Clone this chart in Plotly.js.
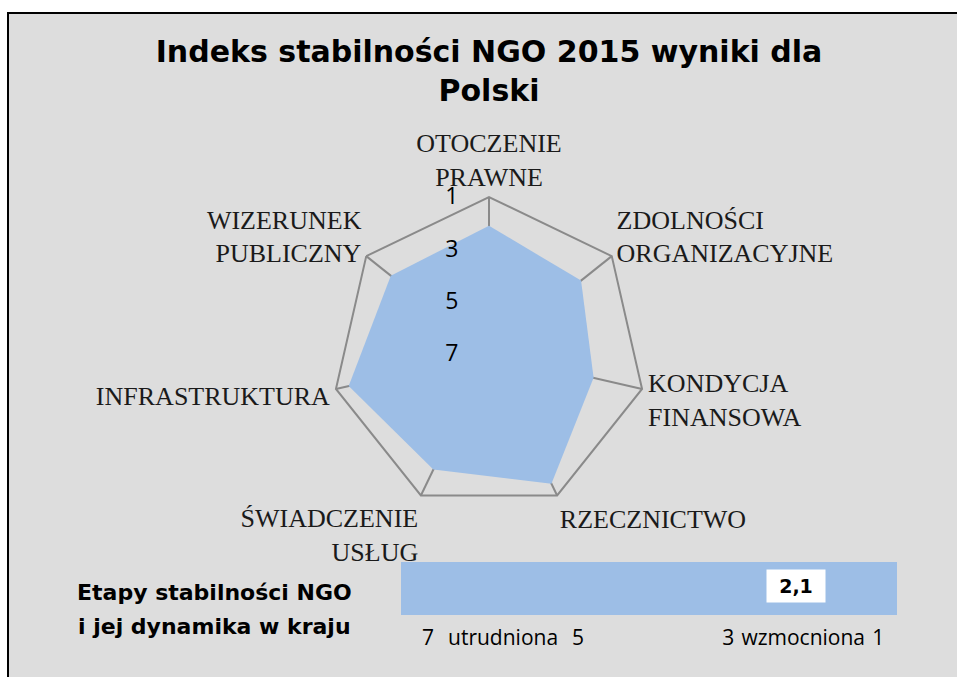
<!DOCTYPE html>
<html>
<head>
<meta charset="utf-8">
<script src="https://cdn.plot.ly/plotly-3.0.1.min.js"></script>
<style>
  html, body { margin: 0; padding: 0; background: #ffffff; width: 957px; height: 677px; overflow: hidden; }
  #frame { position: absolute; left: 7px; top: 12px; width: 960px; height: 680px; border-left: 2px solid #000; border-top: 2px solid #000; background: #dddddd; }
  #chart { position: absolute; left: 0; top: 0; width: 948px; height: 663px; }
</style>
</head>
<body>
<div id="frame"><div id="chart"></div></div>
<script>
// ---- data ----
const titleLines = ['Indeks stabilności NGO 2015 wyniki dla', 'Polski'];
const categories = ['OTOCZENIE<br>PRAWNE', 'ZDOLNOŚCI<br>ORGANIZACYJNE', 'KONDYCJA<br>FINANSOWA', 'RZECZNICTWO', 'ŚWIADCZENIE<br>USŁUG', 'INFRASTRUKTURA', 'WIZERUNEK<br>PUBLICZNY'];
const scores = [2.1, 2.5, 2.9, 1.5, 2.1, 1.5, 2.2];
const radialTickVals = [1, 3, 5, 7];
const overallScore = 2.1;
const overallLabel = '2,1';
const stageTickVals = [7, 6, 5, 3, 2, 1];
const stageTickText = ['7', 'utrudniona', '5', '3', 'wzmocniona', '1'];
const stageCaption = ['Etapy stabilności NGO', 'i jej dynamika w kraju'];

// ---- layout helpers (page px -> plot fractions) ----
const W = 948, H = 663, OX = 9, OY = 14;
const fx = px => (px - OX) / W;
const fy = py => 1 - (py - OY) / H;

const boldFont = '"DejaVu Sans", sans-serif';
const sansFont = '"Open Sans", sans-serif';
const serifFont = '"Liberation Serif", "DejaVu Serif", serif';

const traces = [
  {
    type: 'scatterpolar',
    r: scores.concat([scores[0]]),
    theta: categories.concat([categories[0]]),
    fill: 'toself',
    fillcolor: '#9dbee6',
    mode: 'none',
    hoverinfo: 'r+theta',
    showlegend: false
  },
  {
    type: 'scatter',
    x: [overallScore],
    y: [0.5],
    xaxis: 'x',
    yaxis: 'y',
    mode: 'markers',
    marker: { opacity: 0 },
    hoverinfo: 'x',
    showlegend: false
  }
];

const layout = {
  width: W,
  height: H,
  margin: { l: 0, r: 0, t: 0, b: 0 },
  paper_bgcolor: '#dddddd',
  plot_bgcolor: '#9dbee6',
  showlegend: false,
  title: {
    text: '<b>' + titleLines.join('<br>') + '</b>',
    font: { family: boldFont, size: 30, color: '#000000' },
    x: fx(489),
    xanchor: 'center',
    y: fy(62),
    yanchor: 'top',
    yref: 'container'
  },
  polar: {
    domain: { x: [fx(332), fx(646)], y: [fy(511), fy(197)] },
    bgcolor: 'rgba(0,0,0,0)',
    gridshape: 'linear',
    radialaxis: {
      range: [7, 1],
      tickvals: radialTickVals,
      showgrid: false,
      showline: false,
      angle: 90,
      tickangle: 90,
      side: 'counterclockwise',
      ticks: 'outside',
      ticklen: 22,
      tickcolor: 'rgba(0,0,0,0)',
      tickfont: { family: sansFont, size: 23, color: '#000000' }
    },
    angularaxis: {
      direction: 'clockwise',
      rotation: 90,
      showline: true,
      linecolor: '#8a8a8a',
      linewidth: 2,
      showgrid: true,
      gridcolor: '#8a8a8a',
      gridwidth: 2,
      ticks: '',
      tickfont: { family: serifFont, size: 26, color: '#1a1a1a' }
    }
  },
  xaxis: {
    domain: [fx(401), fx(897)],
    range: [7.36, 0.75],
    tickvals: stageTickVals,
    ticktext: stageTickText,
    ticks: 'outside',
    ticklen: 4,
    tickcolor: 'rgba(0,0,0,0)',
    showgrid: false,
    zeroline: false,
    showline: false,
    tickfont: { family: sansFont, size: 21, color: '#000000' },
    fixedrange: true
  },
  yaxis: {
    domain: [fy(615), fy(562)],
    range: [0, 1],
    visible: false,
    fixedrange: true
  },
  annotations: [
    {
      xref: 'x', yref: 'y',
      x: overallScore, y: 0.55,
      text: '<b>' + overallLabel + '</b>',
      showarrow: false,
      bgcolor: '#ffffff',
      width: 56, height: 30,
      font: { family: boldFont, size: 19, color: '#000000' }
    },
    {
      xref: 'paper', yref: 'paper',
      x: fx(214), y: fy(592),
      xanchor: 'center', yanchor: 'middle',
      text: '<b>' + stageCaption[0] + '</b>',
      showarrow: false,
      font: { family: boldFont, size: 22, color: '#000000' }
    },
    {
      xref: 'paper', yref: 'paper',
      x: fx(214), y: fy(626),
      xanchor: 'center', yanchor: 'middle',
      text: '<b>' + stageCaption[1] + '</b>',
      showarrow: false,
      font: { family: boldFont, size: 22, color: '#000000' }
    }
  ]
};

Plotly.newPlot('chart', traces, layout, { displayModeBar: false, staticPlot: true });
</script>
</body>
</html>
